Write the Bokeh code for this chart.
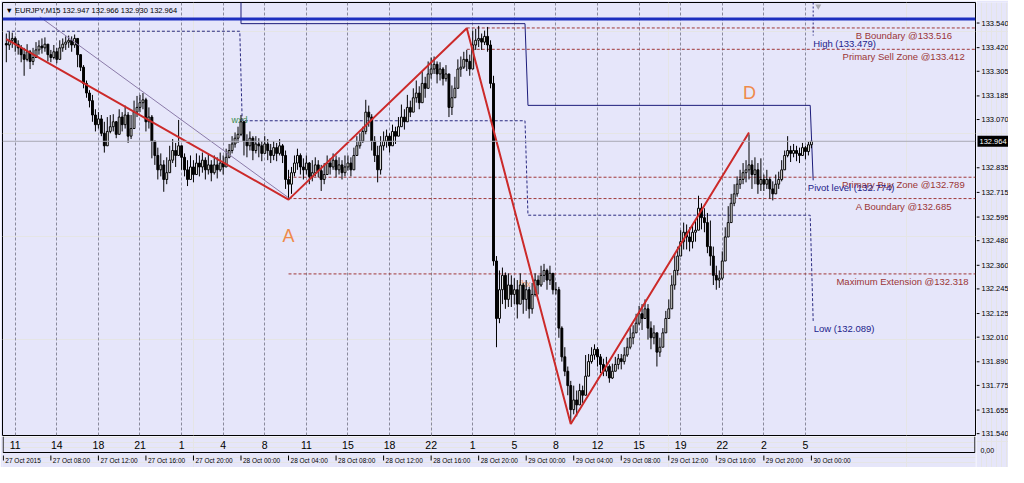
from bokeh.plotting import figure
from bokeh.layouts import column, row
from bokeh.models import Range1d, FixedTicker, Label, Span, Grid, ColumnDataSource
from bokeh.core.properties import value
from bokeh.embed import file_html
from bokeh.resources import INLINE

# ---------------- data ----------------
title_text = "\u25bc EURJPY,M15  132.947 132.966 132.930 132.964"
current_price = 132.964
corner_text = "0,00"

# M15 bars, time in hours after 27 Oct 2015 00:00
bar_start = 4.25
bar_step = 0.25
first_open = 133.440

closes = [
    133.433, 133.456, 133.465, 133.437, 133.419, 133.386, 133.363, 133.400, 133.353, 133.372,
    133.409, 133.428, 133.419, 133.437, 133.386, 133.372, 133.400, 133.363, 133.419, 133.437,
    133.447, 133.456, 133.433, 133.465, 133.386, 133.325, 133.246, 133.199, 133.162, 133.092,
    133.045, 133.073, 133.003, 132.942, 133.012, 133.035, 133.059, 132.998, 133.082, 133.045,
    133.092, 132.989, 133.026, 133.106, 133.129, 133.152, 133.166, 133.059, 133.082, 132.965,
    132.895, 132.825, 132.849, 132.778, 132.811, 132.872, 132.919, 132.895, 132.942, 132.886,
    132.825, 132.778, 132.839, 132.802, 132.858, 132.839, 132.872, 132.825, 132.849, 132.811,
    132.849, 132.825, 132.858, 132.839, 132.886, 132.919, 132.951, 132.979, 132.998, 133.059,
    132.965, 132.942, 132.979, 132.919, 132.951, 132.942, 132.905, 132.951, 132.919, 132.895,
    132.933, 132.905, 132.942, 132.895, 132.778, 132.755, 132.811, 132.858, 132.895, 132.839,
    132.825, 132.858, 132.793, 132.811, 132.849, 132.821, 132.778, 132.802, 132.858, 132.839,
    132.872, 132.825, 132.849, 132.811, 132.839, 132.858, 132.825, 132.895, 132.942, 132.965,
    133.012, 133.106, 133.082, 132.965, 132.895, 132.825, 132.942, 132.965, 132.989, 132.942,
    133.012, 132.989, 133.035, 133.082, 133.059, 133.129, 133.106, 133.176, 133.199, 133.152,
    133.246, 133.222, 133.292, 133.316, 133.339, 133.292, 133.316, 133.269, 133.292, 133.129,
    133.176, 133.222, 133.316, 133.325, 133.363, 133.353, 133.316, 133.433, 133.456, 133.465,
    133.447, 133.475, 133.433, 133.246, 132.381, 132.101, 132.241, 132.311, 132.194, 132.264,
    132.218, 132.241, 132.171, 132.264, 132.194, 132.241, 132.148, 132.218, 132.288, 132.264,
    132.311, 132.335, 132.288, 132.321, 132.241, 132.241, 132.054, 131.914, 131.844, 131.774,
    131.657, 131.704, 131.680, 131.750, 131.727, 131.820, 131.891, 131.923, 131.951, 131.914,
    131.877, 131.844, 131.867, 131.811, 131.844, 131.877, 131.905, 131.891, 131.923, 131.961,
    132.007, 132.031, 132.078, 132.124, 132.101, 132.148, 132.054, 132.007, 132.031, 131.937,
    131.961, 132.031, 132.101, 132.148, 132.264, 132.335, 132.405, 132.475, 132.521, 132.498,
    132.475, 132.521, 132.531, 132.638, 132.592, 132.568, 132.451, 132.405, 132.311, 132.288,
    132.297, 132.381, 132.498, 132.568, 132.662, 132.708, 132.755, 132.778, 132.811, 132.825,
    132.849, 132.802, 132.825, 132.755, 132.778, 132.755, 132.778, 132.732, 132.708, 132.755,
    132.778, 132.825, 132.895, 132.919, 132.905, 132.919, 132.905, 132.895, 132.933, 132.914,
    132.947, 132.964,
]
highs = [
    133.489, 133.498, 133.493, 133.475, 133.456, 133.433, 133.419, 133.437, 133.409, 133.419,
    133.447, 133.456, 133.465, 133.470, 133.433, 133.409, 133.433, 133.419, 133.456, 133.465,
    133.475, 133.479, 133.475, 133.484, 133.465, 133.386, 133.335, 133.260, 133.213, 133.190,
    133.120, 133.106, 133.092, 133.059, 133.082, 133.092, 133.096, 133.063, 133.120, 133.106,
    133.138, 133.106, 133.092, 133.162, 133.185, 133.190, 133.199, 133.176, 133.129, 133.092,
    132.965, 132.933, 132.905, 132.872, 132.886, 132.942, 132.975, 132.956, 133.068, 132.942,
    132.905, 132.872, 132.895, 132.872, 132.905, 132.895, 132.909, 132.886, 132.905, 132.872,
    132.895, 132.886, 132.909, 132.895, 132.928, 132.951, 132.989, 133.007, 133.035, 133.092,
    133.045, 132.998, 133.012, 132.989, 132.989, 132.979, 132.965, 132.989, 132.975, 132.951,
    132.965, 132.956, 132.975, 132.951, 132.919, 132.825, 132.839, 132.895, 132.928, 132.905,
    132.881, 132.895, 132.863, 132.872, 132.886, 132.872, 132.849, 132.858, 132.895, 132.881,
    132.905, 132.895, 132.886, 132.872, 132.895, 132.895, 132.886, 132.933, 132.989, 133.003,
    133.035, 133.166, 133.138, 133.096, 132.989, 132.942, 132.989, 133.012, 133.021, 133.003,
    133.045, 133.035, 133.082, 133.143, 133.120, 133.190, 133.162, 133.222, 133.260, 133.232,
    133.306, 133.278, 133.353, 133.372, 133.377, 133.353, 133.349, 133.325, 133.335, 133.278,
    133.236, 133.278, 133.363, 133.377, 133.400, 133.409, 133.386, 133.503, 133.512, 133.526,
    133.489, 133.503, 133.521, 133.456, 133.283, 132.405, 132.335, 132.349, 132.325, 132.321,
    132.311, 132.297, 132.288, 132.321, 132.274, 132.288, 132.255, 132.274, 132.321, 132.311,
    132.358, 132.367, 132.344, 132.358, 132.321, 132.278, 132.255, 132.063, 131.961, 131.867,
    131.797, 131.774, 131.750, 131.783, 131.774, 131.923, 131.928, 131.961, 131.975, 131.961,
    131.928, 131.905, 131.914, 131.877, 131.881, 131.914, 131.928, 131.928, 131.961, 132.007,
    132.054, 132.068, 132.124, 132.162, 132.171, 132.194, 132.171, 132.087, 132.068, 132.031,
    132.007, 132.054, 132.138, 132.194, 132.311, 132.419, 132.451, 132.531, 132.568, 132.559,
    132.545, 132.554, 132.578, 132.699, 132.662, 132.638, 132.615, 132.578, 132.451, 132.358,
    132.335, 132.428, 132.545, 132.648, 132.708, 132.755, 132.793, 132.825, 132.858, 132.872,
    132.998, 132.872, 132.886, 132.858, 132.881, 132.802, 132.825, 132.788, 132.769, 132.802,
    132.816, 132.872, 132.919, 132.989, 132.942, 132.951, 132.942, 132.933, 132.956, 132.942,
    132.961, 132.966,
]
lows = [
    133.349, 133.409, 133.419, 133.400, 133.386, 133.349, 133.283, 133.353, 133.316, 133.335,
    133.372, 133.386, 133.391, 133.400, 133.353, 133.349, 133.363, 133.344, 133.381, 133.400,
    133.409, 133.419, 133.400, 133.419, 133.325, 133.306, 133.222, 133.176, 133.129, 133.059,
    133.012, 133.026, 132.989, 132.909, 132.975, 133.003, 133.012, 132.979, 133.035, 133.012,
    133.026, 132.956, 132.975, 133.059, 133.082, 133.106, 133.120, 133.012, 133.026, 132.881,
    132.849, 132.778, 132.793, 132.718, 132.755, 132.811, 132.858, 132.839, 132.895, 132.825,
    132.793, 132.746, 132.788, 132.764, 132.816, 132.793, 132.811, 132.778, 132.802, 132.769,
    132.802, 132.783, 132.816, 132.802, 132.858, 132.881, 132.905, 132.933, 132.956, 132.989,
    132.895, 132.886, 132.919, 132.872, 132.905, 132.886, 132.867, 132.905, 132.872, 132.858,
    132.872, 132.867, 132.895, 132.858, 132.732, 132.685, 132.708, 132.793, 132.825, 132.802,
    132.778, 132.802, 132.755, 132.769, 132.793, 132.788, 132.722, 132.755, 132.811, 132.802,
    132.825, 132.788, 132.802, 132.778, 132.793, 132.821, 132.793, 132.858, 132.895, 132.928,
    132.956, 132.998, 133.035, 132.919, 132.863, 132.764, 132.802, 132.919, 132.933, 132.909,
    132.965, 132.951, 132.989, 133.035, 133.021, 133.068, 133.082, 133.129, 133.152, 133.120,
    133.190, 133.176, 133.246, 133.269, 133.292, 133.246, 133.260, 133.236, 133.255, 133.082,
    133.092, 133.176, 133.260, 133.278, 133.316, 133.306, 133.283, 133.386, 133.409, 133.423,
    133.409, 133.433, 133.400, 133.222, 132.358, 131.961, 132.078, 132.171, 132.148, 132.157,
    132.157, 132.171, 132.101, 132.171, 132.124, 132.138, 132.101, 132.124, 132.208, 132.218,
    132.255, 132.278, 132.241, 132.264, 132.218, 132.218, 132.007, 131.891, 131.820, 131.727,
    131.587, 131.634, 131.624, 131.704, 131.690, 131.774, 131.844, 131.881, 131.900, 131.867,
    131.835, 131.820, 131.820, 131.788, 131.806, 131.844, 131.853, 131.853, 131.877, 131.914,
    131.951, 131.975, 132.031, 132.068, 132.045, 132.101, 131.998, 131.951, 131.975, 131.867,
    131.914, 131.984, 132.031, 132.101, 132.162, 132.241, 132.311, 132.405, 132.437, 132.437,
    132.428, 132.442, 132.475, 132.568, 132.535, 132.521, 132.419, 132.358, 132.264, 132.241,
    132.250, 132.288, 132.419, 132.498, 132.606, 132.648, 132.694, 132.732, 132.755, 132.764,
    132.778, 132.732, 132.755, 132.708, 132.722, 132.722, 132.732, 132.685, 132.676, 132.708,
    132.732, 132.769, 132.858, 132.886, 132.863, 132.886, 132.867, 132.858, 132.895, 132.877,
    132.895, 132.930,
]

price_ticks = [133.540, 133.420, 133.305, 133.185, 133.070, 132.835, 132.715, 132.595,
               132.480, 132.360, 132.245, 132.125, 132.010, 131.890, 131.775, 131.655, 131.540]

hour_ticks = [5.0, 8.5, 12.0, 15.5, 19.0, 22.5, 26.0, 29.5, 33.0, 36.5,
              40.0, 43.5, 47.0, 50.5, 54.0, 57.5, 61.0, 64.5, 68.0, 71.5]
hour_labels = ["11", "14", "18", "21", "1", "4", "8", "11", "15", "18",
               "22", "1", "5", "8", "12", "15", "19", "22", "2", "5"]

date_ticks = [4, 8, 12, 16, 20, 24, 28, 32, 36, 40, 44, 48, 52, 56, 60, 64, 68, 72]
date_labels = ["27 Oct 2015", "27 Oct 08:00", "27 Oct 12:00", "27 Oct 16:00", "27 Oct 20:00",
               "28 Oct 00:00", "28 Oct 04:00", "28 Oct 08:00", "28 Oct 12:00", "28 Oct 16:00",
               "28 Oct 20:00", "29 Oct 00:00", "29 Oct 04:00", "29 Oct 08:00", "29 Oct 12:00",
               "29 Oct 16:00", "29 Oct 20:00", "30 Oct 00:00"]

# harmonic pattern zigzag (start, A, B, C, D)
zigzag_t = [4.25, 28.0, 43.0, 51.75, 66.75]
zigzag_p = [133.462, 132.680, 133.515, 131.587, 133.007]
point_names = ["A", "D"]
point_t = [28.0, 66.8]
point_p = [132.501, 133.200]

trend_t = [7.07, 28.0]
trend_p = [133.570, 132.689]

blue_level = 133.560

high_step_t = [24.0, 24.0, 47.9, 48.15, 71.9, 72.15]
high_step_p = [133.700, 133.537, 133.537, 133.139, 133.139, 132.774]
low_step_t = [4.3, 23.9, 24.1, 47.9, 48.15, 71.9, 72.15]
low_step_p = [133.500, 133.500, 133.064, 133.064, 132.604, 132.604, 132.089]

zone_names = ["B Boundary", "Primary Sell Zone", "Primary Buy Zone", "A Boundary", "Maximum Extension"]
zone_prices = [133.516, 133.412, 132.789, 132.685, 132.318]
zone_start = [43.0, 43.0, 28.0, 28.0, 28.0]
zone_text_end = [83.83, 84.9, 84.9, 83.83, 85.23]

pivot_names = ["High", "Pivot level", "Low"]
pivot_prices = [133.479, 132.774, 132.089]
pivot_text_t = [72.15, 71.7, 72.2]

small_notes = ["wxd", "fhx"]
small_note_t = [23.2, 47.4]
small_note_p = [133.068, 132.271]
small_note_colors = ["#3c8c50", "#f0a070"]

shift_marker_t = 72.58
shift_marker_p = 133.622

# ---------------- layout ----------------
X0, X1 = 3.93, 85.81
Y0, Y1 = 131.531, 133.640
BG = "#e6e6fa"
FONT = "Liberation Sans"
FW, FH = 973, 433          # main frame size
RW, BH = 32, 31            # right price scale width, bottom time scale height
PPX = (Y1 - Y0) / FH       # price per pixel


def panel(**kw):
    f = figure(output_backend="svg", toolbar_location=None,
               x_axis_location=None, y_axis_location=None, **kw)
    f.background_fill_color = BG
    f.border_fill_color = BG
    f.outline_line_color = None
    return f


main = panel(width=FW + 3, height=FH + 3, x_range=Range1d(X0, X1), y_range=Range1d(Y0, Y1),
             min_border_left=2, min_border_right=1, min_border_top=2, min_border_bottom=1)
main.outline_line_color = "black"
main.outline_line_width = 1

# price scale spans the full height so the lowest label is not cut
right = panel(width=RW, height=FH + 3 + BH, x_range=Range1d(0, RW),
              y_range=Range1d(Y0 - (1 + BH) * PPX, Y1),
              min_border_left=0, min_border_right=0, min_border_top=2, min_border_bottom=0)

bottom = panel(width=FW + 3, height=BH, x_range=main.x_range, y_range=Range1d(0, BH),
               min_border_left=2, min_border_right=1, min_border_top=0, min_border_bottom=0)

# ---- main chart ----
main.add_layout(Grid(dimension=0, ticker=FixedTicker(ticks=hour_ticks), grid_line_color="#8a8a9c",
                     grid_line_dash="3 2", grid_line_width=1))

main.add_layout(Span(location=current_price, dimension="width", line_color="#a9a9b4", line_width=1))
main.add_layout(Span(location=blue_level, dimension="width", line_color="#1d2fbf", line_width=3))

main.line(high_step_t, high_step_p, line_color="#1c1c7a", line_width=1)
main.line(low_step_t, low_step_p, line_color="#2a2a80", line_width=1, line_dash="3 2")
main.line([high_step_t[-1], high_step_t[-1]], [Y1, pivot_prices[0]], line_color="#2a2a80",
          line_width=1, line_dash="2 2")

main.segment(x0=zone_start, y0=zone_prices, x1=[X1] * len(zone_prices), y1=zone_prices,
             line_color="#a03838", line_width=1, line_dash="3 2")

# small indicator notes, partly hidden behind the candles
main.text(x=small_note_t, y=small_note_p, text=small_notes, text_color=small_note_colors,
          text_align="left", text_baseline="middle", text_font=value(FONT), text_font_size="9px")

opens = [first_open] + closes[:-1]
times = [bar_start + bar_step * i for i in range(len(closes))]
hi = [max(h, o, c) for h, o, c in zip(highs, opens, closes)]
lo = [min(l, o, c) for l, o, c in zip(lows, opens, closes)]
src = ColumnDataSource(dict(
    t=times, o=opens, c=closes, h=hi, l=lo,
    top=[max(o, c) for o, c in zip(opens, closes)],
    bot=[min(o, c) for o, c in zip(opens, closes)],
    fill=["white" if c >= o else "black" for o, c in zip(opens, closes)],
))
main.segment(x0="t", y0="l", x1="t", y1="h", source=src, line_color="black", line_width=1)
main.vbar(x="t", width=0.16, top="top", bottom="bot", source=src, fill_color="fill",
          line_color="black", line_width=1)

main.line(trend_t, trend_p, line_color="#8a7aa8", line_width=1)
main.line(zigzag_t, zigzag_p, line_color="#cc2a2a", line_width=2)

# chart shift marker
main.scatter([shift_marker_t], [shift_marker_p], marker="inverted_triangle", size=6,
             fill_color="#a8a8b0", line_color=None)

for name, tt, pp in zip(point_names, point_t, point_p):
    main.add_layout(Label(x=tt, y=pp, text=name, text_align="center", text_baseline="middle",
                          text_font=FONT, text_font_size="18px", text_color="#ef8a4a"))

for name, pr, xe in zip(zone_names, zone_prices, zone_text_end):
    main.add_layout(Label(x=xe, y=pr, text=f"{name} @{pr:.3f}", text_align="right",
                          text_baseline="top", y_offset=-2, text_font=FONT,
                          text_font_size="9.5px", text_color="#9b3535"))

for name, pr, tt in zip(pivot_names, pivot_prices, pivot_text_t):
    main.add_layout(Label(x=tt, y=pr, text=f"{name} ({pr:.3f})", text_align="left",
                          text_baseline="top", y_offset=-2, text_font=FONT,
                          text_font_size="9.5px", text_color="#22228a"))

main.add_layout(Label(x=X0, y=Y1, x_offset=3, y_offset=-3, text=title_text, text_align="left",
                      text_baseline="top", text_font=FONT, text_font_size="7.5px",
                      text_color="black"))

# ---- right price scale ----
right.segment(x0=0, y0=price_ticks, x1=3, y1=price_ticks, line_color="black", line_width=1)
right.text(x=[5] * len(price_ticks), y=price_ticks, text=[f"{v:.3f}" for v in price_ticks],
           text_align="left", text_baseline="middle", text_font=value(FONT),
           text_font_size="7.5px", text_color="black")
right.rect(x=[16.5], y=[current_price], width=31, height=11, height_units="screen",
           fill_color="black", line_color=None)
right.text(x=[3], y=[current_price], text=[f"{current_price:.3f}"], text_align="left",
           text_baseline="middle", text_font=value(FONT), text_font_size="7.5px",
           text_color="white")
right.text(x=[4], y=[Y0 - 15 * PPX], text=[corner_text], text_align="left",
           text_baseline="middle", text_font=value(FONT), text_font_size="7px",
           text_color="black")

# ---- bottom time scale ----
box_bottom = BH - 16
bottom.line([X0 + 0.05, X0 + 0.05, X1 - 0.05, X1 - 0.05], [BH, box_bottom, box_bottom, BH],
            line_color="black", line_width=1)
bottom.text(x=hour_ticks, y=[BH - 8] * len(hour_ticks), text=hour_labels,
            text_align="center", text_baseline="middle", text_font=value(FONT),
            text_font_size="10.5px", text_color="black")
bottom.segment(x0=date_ticks, y0=[box_bottom - 3] * len(date_ticks),
               x1=date_ticks, y1=[box_bottom - 8] * len(date_ticks), line_color="black", line_width=1)
bottom.text(x=date_ticks, y=[BH - 24] * len(date_ticks), text=date_labels, x_offset=2,
            text_align="left", text_baseline="middle", text_font=value(FONT),
            text_font_size="6.5px", text_color="black")

layout = row(column(main, bottom), right)

open("out.html", "w").write(file_html(layout, INLINE))
